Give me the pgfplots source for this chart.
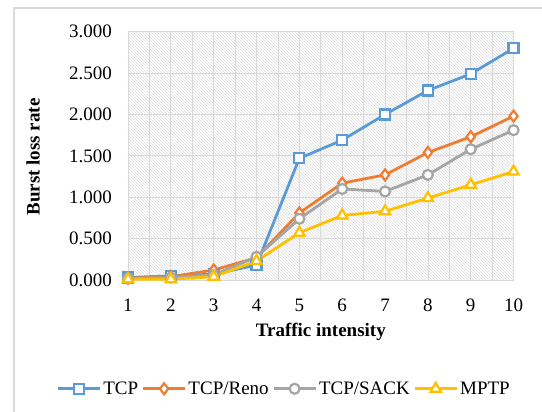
\documentclass[border=0pt]{standalone}
\usepackage{fontspec}
\setmainfont{Liberation Serif}
\usepackage{pgfplots}
\pgfplotsset{compat=1.18}
\usetikzlibrary{patterns}
\definecolor{cTCP}{HTML}{5B9BD5}
\definecolor{cReno}{HTML}{ED7D31}
\definecolor{cSACK}{HTML}{A5A5A5}
\definecolor{cMPTP}{HTML}{FFC000}
\definecolor{gridc}{HTML}{D9D9D9}
\definecolor{framec}{HTML}{D9D9D9}
\begin{document}
\begin{tikzpicture}[x=1pt,y=1pt]
\useasboundingbox (0,0) rectangle (542,412);
\draw[color=framec, line width=1.5pt] (14,0) -- (14,404) -- (542,404);
\begin{axis}[
  at={(128pt,132pt)}, anchor=south west,
  scale only axis, width=385.6pt, height=248.3pt,
  xmin=1, xmax=10, ymin=0, ymax=3,
  clip=false,
  axis background/.style={pattern=north west lines, pattern color=black!13},
  axis line style={gridc, line width=0.8pt},
  xtick={1,2,...,10},
  ytick={0,0.5,...,3},
  minor x tick num=1,
  xmajorgrids, xminorgrids, ymajorgrids,
  major grid style={gridc, line width=0.8pt},
  minor grid style={gridc, line width=0.8pt},
  major tick length=0pt, minor tick length=0pt,
  tick style={draw=none},
  /pgf/number format/assume math mode=true,
  yticklabel style={/pgf/number format/.cd, fixed, fixed zerofill, precision=3, /tikz/.cd, font=\fontsize{19}{22}\selectfont, anchor=east, inner sep=0pt, xshift=-16pt},
  xticklabel style={font=\fontsize{19}{22}\selectfont, anchor=north, inner sep=0pt, yshift=-18.5pt},
  xlabel={\textbf{Traffic intensity}},
  ylabel={\textbf{Burst loss rate}},
  xlabel style={font=\fontsize{19}{22}\selectfont, at={(axis description cs:0.5,-0.209)}, anchor=center},
  ylabel style={font=\fontsize{19}{22}\selectfont, at={(axis description cs:-0.246,0.495)}, anchor=center},
  legend columns=4,
  legend style={draw=none, fill=none, at={(0.405,-0.438)}, anchor=center,
    font=\fontsize{19}{22}\selectfont,
    nodes={inner xsep=2pt},
    /tikz/every even column/.append style={column sep=1.5pt}},
  legend image code/.code={\draw[mark repeat=2, mark phase=2] plot coordinates {(0pt,0pt) (21pt,0pt) (42pt,0pt)};},
]
\addplot[color=cTCP, line width=2.8pt, mark=square*, mark size=5pt, mark options={fill=white, line width=2.2pt, solid}]
  coordinates {(1,0.03)(2,0.05)(3,0.07)(4,0.18)(5,1.47)(6,1.69)(7,2.00)(8,2.29)(9,2.49)(10,2.80)};
\addlegendentry{TCP}
\addplot[color=cReno, line width=2.8pt, mark=diamond*, mark size=5.5pt, mark options={fill=white, line width=2.2pt, solid}]
  coordinates {(1,0.02)(2,0.04)(3,0.12)(4,0.27)(5,0.81)(6,1.17)(7,1.27)(8,1.54)(9,1.73)(10,1.98)};
\addlegendentry{TCP/Reno}
\addplot[color=cSACK, line width=2.8pt, mark=*, mark size=5pt, mark options={fill=white, line width=2.2pt, solid}]
  coordinates {(1,0.02)(2,0.03)(3,0.06)(4,0.28)(5,0.74)(6,1.10)(7,1.07)(8,1.27)(9,1.58)(10,1.81)};
\addlegendentry{TCP/SACK}
\addplot[color=cMPTP, line width=2.8pt, mark=triangle*, mark size=6pt, mark options={fill=white, line width=2.2pt, solid}]
  coordinates {(1,0.01)(2,0.01)(3,0.04)(4,0.23)(5,0.57)(6,0.78)(7,0.83)(8,0.99)(9,1.15)(10,1.31)};
\addlegendentry{MPTP}
\end{axis}
\end{tikzpicture}
\end{document}
